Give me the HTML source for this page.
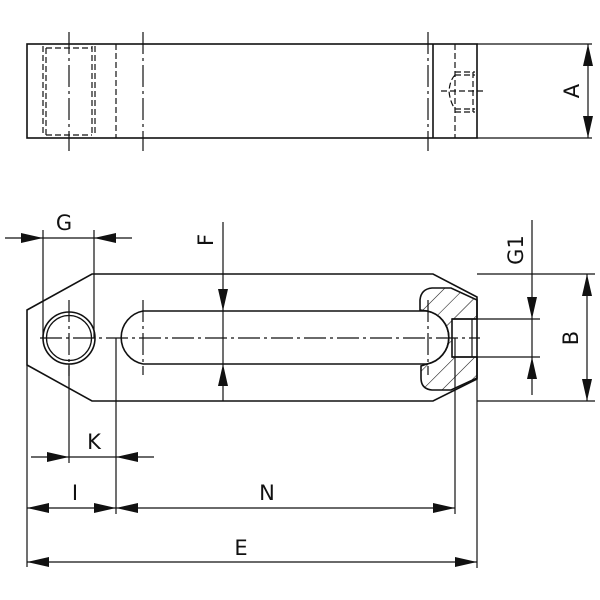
<!DOCTYPE html>
<html><head><meta charset="utf-8"><style>
html,body{margin:0;padding:0;background:#fff;}
svg{display:block;}
text{font-family:"DejaVu Sans","Liberation Sans",sans-serif;font-size:21px;fill:#111;}
</style></head><body>
<svg width="600" height="600" viewBox="0 0 600 600" xmlns="http://www.w3.org/2000/svg">
<defs>
<pattern id="h" width="14" height="14" patternUnits="userSpaceOnUse" patternTransform="rotate(45)">
<line x1="0" y1="0" x2="0" y2="14" stroke="#111" stroke-width="1.1"/>
</pattern>
</defs>
<g stroke="#111" fill="none" stroke-width="1.6">
<rect x="27" y="44" width="450" height="94"/>
<line x1="433" y1="44" x2="433" y2="138"/>
<line x1="477" y1="44" x2="592" y2="44" stroke-width="1.2"/>
<line x1="477" y1="138" x2="592" y2="138" stroke-width="1.2"/>
<g stroke-width="1.2" stroke-dasharray="6,3">
<line x1="43" y1="46" x2="43" y2="136"/><line x1="46" y1="48" x2="46" y2="136"/>
<line x1="92" y1="46" x2="92" y2="136"/><line x1="95" y1="46" x2="95" y2="136"/>
<line x1="46" y1="48" x2="92" y2="48"/><line x1="46" y1="135" x2="92" y2="135"/>
<line x1="116" y1="44" x2="116" y2="138"/>
<line x1="455" y1="44" x2="455" y2="138"/>
<line x1="455" y1="72" x2="475" y2="72"/><line x1="455" y1="75" x2="475" y2="75"/>
<line x1="455" y1="109" x2="475" y2="109"/><line x1="455" y1="112" x2="475" y2="112"/>
<line x1="473" y1="72" x2="473" y2="112"/>
<path d="M455 75 Q450 80 449 91 Q450 102 455 109"/>
</g>
<g stroke-width="1.2" stroke-dasharray="22,4,3,4">
<line x1="69" y1="32" x2="69" y2="151"/>
<line x1="143" y1="32" x2="143" y2="151"/>
<line x1="428" y1="32" x2="428" y2="151"/>
</g>
<line x1="441" y1="91" x2="484" y2="91" stroke-width="1.2" stroke-dasharray="6,3"/>

<path d="M27 310 L92 274 L433 274 L477 297 L477 379 L433 401 L92 401 L27 365 Z"/>
<circle cx="69" cy="338" r="26"/>
<circle cx="69" cy="338" r="22.5" stroke-width="1.3"/>
<path d="M143 311 L427 311"/>
<path d="M143 364 L427 364"/>
<path d="M143 311 A27 27 0 0 0 143 364"/>
<path d="M420 310 L420 300 Q421 289 432 288 L451 288 L477 300 L477 319 L452 319 L452 357 L477 357 L477 378 L451 390 L432 390 Q421 389 421 378 L421 366 L427 364 A27 27 0 0 0 427 311 Z" fill="url(#h)" stroke-width="1.6"/>
<path d="M427 311 A27 27 0 0 1 427 364" />
<line x1="452" y1="319" x2="477" y2="319"/>
<line x1="452" y1="357" x2="477" y2="357"/>
<line x1="472" y1="319" x2="472" y2="357" stroke-width="1.2"/>
<g stroke-width="1.2" stroke-dasharray="22,4,3,4">
<line x1="40" y1="338" x2="480" y2="338"/>
<line x1="69" y1="300" x2="69" y2="376"/>
<line x1="143" y1="300" x2="143" y2="375"/>
<line x1="428" y1="300" x2="428" y2="375"/>
</g>

<g stroke-width="1.2">
<line x1="5" y1="238" x2="132" y2="238"/>
<line x1="43" y1="230" x2="43" y2="338"/>
<line x1="94" y1="230" x2="94" y2="338"/>
<line x1="223" y1="222" x2="223" y2="401"/>
<line x1="532" y1="220" x2="532" y2="395"/>
<line x1="477" y1="319" x2="540" y2="319"/>
<line x1="477" y1="357" x2="540" y2="357"/>
<line x1="587" y1="274" x2="587" y2="401"/>
<line x1="477" y1="274" x2="595" y2="274"/>
<line x1="477" y1="401" x2="595" y2="401"/>
<line x1="588" y1="44" x2="588" y2="138"/>
<line x1="27" y1="365" x2="27" y2="567"/>
<line x1="69" y1="364" x2="69" y2="463"/>
<line x1="116" y1="338" x2="116" y2="514"/>
<line x1="455" y1="338" x2="455" y2="514"/>
<line x1="477" y1="379" x2="477" y2="568"/>
<line x1="31" y1="457" x2="154" y2="457"/>
<line x1="27" y1="508" x2="455" y2="508"/>
<line x1="27" y1="562" x2="477" y2="562"/>
</g>
</g>
<g fill="#111" stroke="none">
<polygon points="588,44 583,66 593,66"/><polygon points="588,138 583,116 593,116"/>
<polygon points="43,238 21,233 21,243"/><polygon points="94,238 116,233 116,243"/>
<polygon points="223,311 218,289 228,289"/><polygon points="223,364 218,386 228,386"/>
<polygon points="532,319 527,297 537,297"/><polygon points="532,357 527,379 537,379"/>
<polygon points="587,274 582,296 592,296"/><polygon points="587,401 582,379 592,379"/>
<polygon points="69,457 47,452 47,462"/><polygon points="116,457 138,452 138,462"/>
<polygon points="27,508 49,503 49,513"/><polygon points="116,508 94,503 94,513"/>
<polygon points="116,508 138,503 138,513"/><polygon points="455,508 433,503 433,513"/>
<polygon points="27,562 49,557 49,567"/><polygon points="477,562 455,557 455,567"/>
</g>
<g>
<text x="64" y="230" text-anchor="middle">G</text>
<text x="94" y="449" text-anchor="middle">K</text>
<text x="75" y="500" text-anchor="middle">I</text>
<text x="267" y="500" text-anchor="middle">N</text>
<text x="241" y="555" text-anchor="middle">E</text>
<text transform="translate(213,240) rotate(-90)" text-anchor="middle">F</text>
<text transform="translate(523,250) rotate(-90)" text-anchor="middle">G1</text>
<text transform="translate(578,338) rotate(-90)" text-anchor="middle">B</text>
<text transform="translate(579,91) rotate(-90)" text-anchor="middle">A</text>
</g>
</svg>
</body></html>
